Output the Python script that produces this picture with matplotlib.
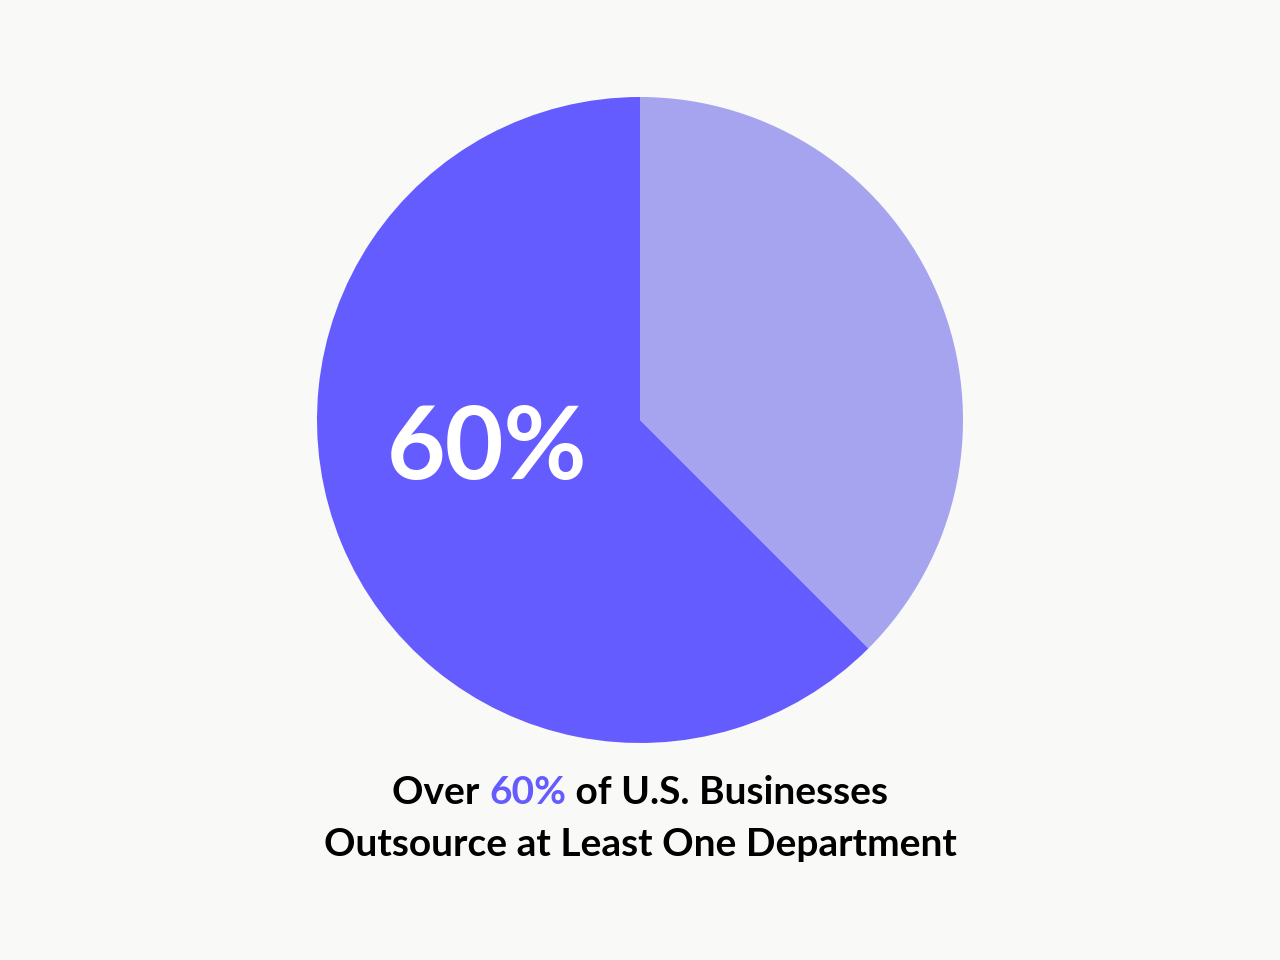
import matplotlib
matplotlib.use("Agg")
import matplotlib.pyplot as plt

# data
labels = ["Other", "Outsource"]
shares = [37.5, 62.5]
colors = ["#a6a3ef", "#645cff"]
big_label = "60%"
title_parts = [("Over ", "#000000"), ("60%", "#645cff"), (" of U.S. Businesses", "#000000")]
title_line2 = "Outsource at Least One Department"

bg = "#f9f9f8"
W, H = 1280, 960

fig = plt.figure(figsize=(12.8, 9.6), dpi=100, facecolor=bg)
ax = fig.add_axes([0, 0, 1, 1])
ax.set_facecolor(bg)

ax.pie(shares, colors=colors, startangle=90, counterclock=False,
       center=(640, H - 420), radius=323, frame=True,
       wedgeprops=dict(linewidth=0))
ax.set_xlim(0, W)
ax.set_ylim(0, H)
ax.set_aspect("equal")
ax.axis("off")

font = "Lato"
ax.text(487, H - 450, big_label, color="white", fontsize=73, fontweight="bold",
        family=font, ha="center", va="center")

# first title line with coloured part
fig.canvas.draw()
r = fig.canvas.get_renderer()
tsize = 28
pieces = []
for s, c in title_parts:
    t = ax.text(0, H - 792, s, color=c, fontsize=tsize, fontweight="bold",
                family=font, ha="left", va="center")
    pieces.append(t)
widths = [p.get_window_extent(r).width for p in pieces]
x = 640 - sum(widths) / 2
for p, w in zip(pieces, widths):
    p.set_x(x)
    x += w

ax.text(640, H - 845, title_line2, color="black", fontsize=tsize, fontweight="bold",
        family=font, ha="center", va="center")

fig.savefig("out.png", dpi=100, facecolor=bg)
